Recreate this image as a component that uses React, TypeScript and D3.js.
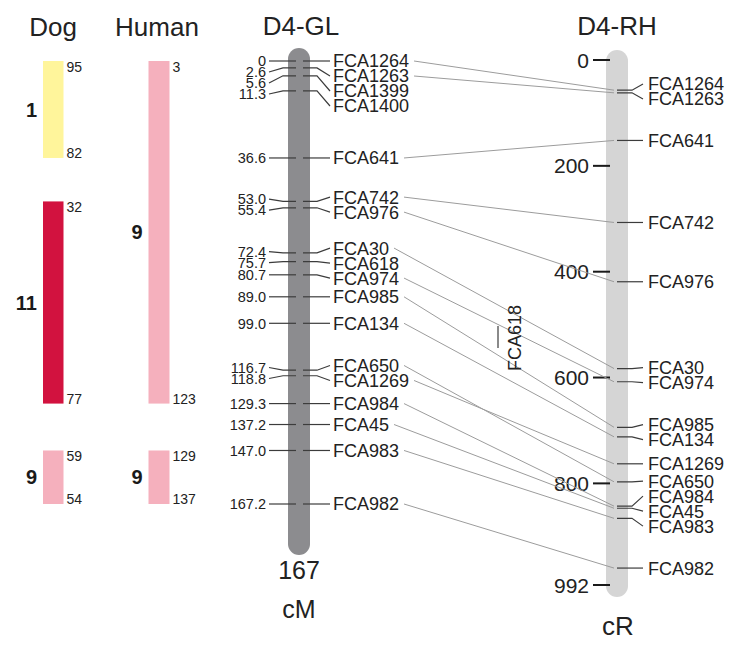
import React from "react";
import * as d3 from "d3";

// ---- Data ----
const glMarkers = ["FCA1264","FCA1263","FCA1399","FCA1400","FCA641","FCA742","FCA976","FCA30","FCA618","FCA974","FCA985","FCA134","FCA650","FCA1269","FCA984","FCA45","FCA983","FCA982"];
const glPositions = [0,2.6,5.6,11.3,36.6,53.0,55.4,72.4,75.7,80.7,89.0,99.0,116.7,118.8,129.3,137.2,147.0,167.2];
const glLength = 167;

const rhMarkers = ["FCA1264","FCA1263","FCA641","FCA742","FCA976","FCA30","FCA974","FCA985","FCA134","FCA1269","FCA650","FCA984","FCA45","FCA983","FCA982"];
const rhPositions = [57,62,152,307,419,583,608,694,712,763,797,843,847,866,960];
const rhTicks = [0,200,400,600,800,992];
const rhUnmapped = ["FCA618"];

const dogChroms = ["1","11","9"];
const dogStartCM = [0,53.0,147.0];
const dogEndCM = [36.6,129.3,167.2];
const dogStartLabels = ["95","32","59"];
const dogEndLabels = ["82","77","54"];
const dogColors = ["#fff59b","#d2123f","#f5b0bd"];

const humanChroms = ["9","9"];
const humanStartCM = [0,147.0];
const humanEndCM = [129.3,167.2];
const humanStartLabels = ["3","129"];
const humanEndLabels = ["123","137"];
const humanColors = ["#f5b0bd","#f5b0bd"];

// ---- helpers ----
const FONT = "'Liberation Sans', Arial, Helvetica, sans-serif";
const charW: Record<string, number> = { F: 0.611, C: 0.722, A: 0.667 };
function textWidth(s: string, size: number) {
  let w = 0;
  for (const c of s) w += charW[c] ?? 0.556;
  return w * size;
}

// spread label positions (sorted input) so that neighbours are at least `gap` apart
function spread(ys: number[], gap: number, minY = -Infinity): number[] {
  let clusters = ys.map((y, i) => ({ i0: i, n: 1, sum: y, top: y }));
  const place = (c: any) => {
    c.top = Math.max(minY, c.sum / c.n - ((c.n - 1) * gap) / 2);
  };
  clusters.forEach(place);
  let merged = true;
  while (merged) {
    merged = false;
    for (let k = 1; k < clusters.length; k++) {
      const a = clusters[k - 1], b = clusters[k];
      if (a.top + a.n * gap > b.top + 0.01) {
        a.n += b.n; a.sum += b.sum; place(a);
        clusters.splice(k, 1);
        merged = true;
        break;
      }
    }
  }
  const out: number[] = [];
  clusters.forEach((c) => { for (let j = 0; j < c.n; j++) out.push(c.top + j * gap); });
  return out;
}

export default function App() {
  const W = 750, H = 653;
  const glY = d3.scaleLinear().domain([0, 167.2]).range([61, 504]);
  const rhY = d3.scaleLinear().domain([0, 992]).range([60, 585]);

  const GLX = 299, CHW = 22, RHX = 617;

  const glLeftY = spread(glPositions.map((v) => glY(v)), 11, glY(0));
  const glRightY = spread(glPositions.map((v) => glY(v)), 15, glY(0));
  const rhLabY = spread(rhPositions.map((v) => rhY(v)), 15);

  const fmt = (v: number) => (v === 0 ? "0" : d3.format(".1f")(v));

  const nameSize = 18;
  const glNameX = 333;

  const tickCol = "#3c3c3c";
  const linkCol = "#9c9c9c";

  const blocks = (
    xBar: number, bw: number, chroms: string[], s: number[], e: number[],
    sl: string[], el: string[], cols: string[]
  ) =>
    chroms.map((c, i) => {
      const y0 = glY(s[i]), y1 = glY(e[i]);
      return (
        <g key={xBar + "-" + i}>
          <rect x={xBar} y={y0} width={bw} height={y1 - y0} fill={cols[i]} />
          <text x={xBar - 6} y={(y0 + y1) / 2} dy="0.36em" textAnchor="end" fontSize={20} fontWeight="bold" fill="#1a1a1a">{c}</text>
          <text x={xBar + bw + 3} y={y0 + 10.5} fontSize={14} fill="#222">{sl[i]}</text>
          <text x={xBar + bw + 3} y={y1} fontSize={14} fill="#222">{el[i]}</text>
        </g>
      );
    });

  return (
    <div style={{ position: "absolute", left: 0, top: 0 }}>
      <svg width={W} height={H} style={{ display: "block", background: "#fff" }} fontFamily={FONT}>
        {/* Titles */}
        <text x={53} y={36} fontSize={26} textAnchor="middle" fill="#222">Dog</text>
        <text x={157} y={36} fontSize={26} textAnchor="middle" fill="#222">Human</text>
        <text x={GLX + 2} y={35} fontSize={26} textAnchor="middle" fill="#222">D4-GL</text>
        <text x={RHX} y={35} fontSize={26} textAnchor="middle" fill="#222">D4-RH</text>

        {/* Dog / Human synteny blocks */}
        {blocks(43, 20.5, dogChroms, dogStartCM, dogEndCM, dogStartLabels, dogEndLabels, dogColors)}
        {blocks(148.5, 21, humanChroms, humanStartCM, humanEndCM, humanStartLabels, humanEndLabels, humanColors)}

        {/* GL chromosome */}
        <rect x={GLX - CHW / 2} y={glY(0) - 13} width={CHW} height={glY(167.2) + 51 - (glY(0) - 13)} rx={11} fill="#8c8c8f" />
        <text x={GLX} y={579} fontSize={25} textAnchor="middle" fill="#222">{glLength}</text>
        <text x={GLX} y={618} fontSize={25} textAnchor="middle" fill="#222">cM</text>

        {/* RH chromosome */}
        <rect x={RHX - CHW / 2} y={rhY(0) - 10} width={CHW} height={rhY(992) + 12 - (rhY(0) - 10)} rx={11} fill="#d5d5d5" />
        <text x={RHX + 1} y={635} fontSize={26} textAnchor="middle" fill="#222">cR</text>

        {/* RH axis */}
        {rhTicks.map((t) => (
          <g key={"t" + t}>
            <line x1={593} x2={610} y1={rhY(t)} y2={rhY(t)} stroke="#1a1a1a" strokeWidth={2} />
            <text x={589} y={rhY(t)} dy="0.36em" fontSize={21} textAnchor="end" fill="#222">{t}</text>
          </g>
        ))}

        {/* Links GL -> RH */}
        {glMarkers.map((m, i) => {
          const j = rhMarkers.indexOf(m);
          if (j < 0) return null;
          const x0 = glNameX + textWidth(m, nameSize) + 5;
          return (
            <line key={"l" + m} x1={x0} y1={glRightY[i]} x2={RHX - 3} y2={rhY(rhPositions[j])} stroke={linkCol} strokeWidth={1} />
          );
        })}

        {/* GL markers */}
        {glMarkers.map((m, i) => {
          const y = glY(glPositions[i]);
          const ly = glLeftY[i], ry = glRightY[i];
          return (
            <g key={"g" + m}>
              <polyline points={`269,${ly} 283,${y} 296,${y}`} fill="none" stroke={tickCol} strokeWidth={1.2} />
              <polyline points={`303,${y} 317,${y} 330,${ry}`} fill="none" stroke={tickCol} strokeWidth={1.2} />
              <text x={266} y={ly} dy="0.36em" fontSize={14.5} textAnchor="end" fill="#222">{fmt(glPositions[i])}</text>
              <text x={glNameX} y={ry} dy="0.36em" fontSize={nameSize} fill="#222">{m}</text>
            </g>
          );
        })}

        {/* RH markers */}
        {rhMarkers.map((m, i) => {
          const y = rhY(rhPositions[i]);
          const ly = rhLabY[i];
          return (
            <g key={"r" + m}>
              <polyline points={`${RHX},${y} 632,${y} 643,${ly}`} fill="none" stroke={tickCol} strokeWidth={1.2} />
              <text x={648} y={ly} dy="0.36em" fontSize={nameSize} fill="#222">{m}</text>
            </g>
          );
        })}

        {/* Marker not placed on RH map */}
        {rhUnmapped.map((m) => (
          <g key={"u" + m}>
            <line x1={498} x2={498} y1={326} y2={348} stroke={tickCol} strokeWidth={1.2} />
            <text transform="translate(515,338) rotate(-90)" dy="0.36em" fontSize={nameSize} textAnchor="middle" fill="#222">{m}</text>
          </g>
        ))}
      </svg>
    </div>
  );
}
